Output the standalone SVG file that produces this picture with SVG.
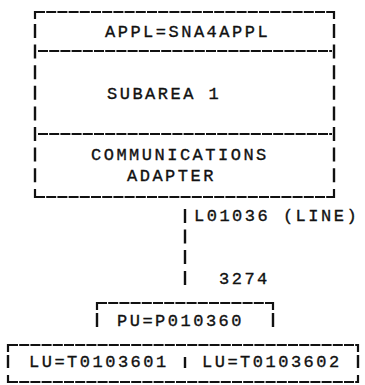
<svg xmlns="http://www.w3.org/2000/svg" width="365" height="385" viewBox="0 0 365 385">
  <style>
    .t { font-family: "Liberation Mono", "DejaVu Sans Mono", monospace; font-size: 17px; letter-spacing: 2.5px; fill: #111; stroke: #111; stroke-width: 0.35; }
    .h { fill: none; stroke: #111; stroke-width: 1.8; stroke-dasharray: 10 1.2; }
    .v { fill: none; stroke: #111; stroke-width: 2.4; }
    .c { fill: none; stroke: #111; stroke-width: 2.2; }
  </style>
  <rect width="365" height="385" fill="#fff"/>

  <!-- host: application / subarea / communications adapter -->
  <g id="host">
    <path class="h" d="M35 12 H334 M38 51 H332 M38 134 H332 M35 197 H334"/>
    <!-- corners -->
    <path class="c" d="M35 11 V19 M334 11 V19 M35 189 V198 M334 189 V198"/>
    <!-- left and right sides, one bar per typed row -->
    <path class="v" d="M35 24 V38 M35 44.6 V58.6 M35 65.2 V79.2 M35 85.8 V99.8 M35 106.4 V120.4 M35 127 V141 M35 147.6 V161.6 M35 168.2 V182.2
                       M334 24 V38 M334 44.6 V58.6 M334 65.2 V79.2 M334 85.8 V99.8 M334 106.4 V120.4 M334 127 V141 M334 147.6 V161.6 M334 168.2 V182.2"/>
    <text class="t" x="105" y="37">APPL=SNA4APPL</text>
    <text class="t" x="107" y="99">SUBAREA 1</text>
    <text class="t" x="91" y="160">COMMUNICATIONS</text>
    <text class="t" x="127" y="180.5">ADAPTER</text>
  </g>

  <!-- line from the adapter to the 3274 -->
  <g id="connectors">
    <path class="v" d="M185 209 V223 M185 229.5 V243.5 M185 250 V264 M185 271 V285"/>
    <text class="t" x="194" y="221">L01036 (LINE)</text>
    <text class="t" x="219" y="284">3274</text>
  </g>

  <!-- physical unit -->
  <g id="pu">
    <path class="h" d="M97 303 H273"/>
    <path class="c" d="M97 302 V310 M273 302 V310"/>
    <path class="v" d="M97 313 V327 M273 313 V327"/>
    <text class="t" x="117" y="326">PU=P010360</text>
  </g>

  <!-- logical units -->
  <g id="lu">
    <path class="h" d="M8 345 H358 M8 382 H358"/>
    <path class="c" d="M8 344 V352 M358 344 V352 M8 375 V383 M358 375 V383"/>
    <path class="v" d="M8 355 V368 M358 355 V368 M185 357 V368"/>
    <text class="t" x="29" y="367">LU=T0103601</text>
    <text class="t" x="202" y="367" letter-spacing="3.2">LU=T0103602</text>
  </g>
</svg>
